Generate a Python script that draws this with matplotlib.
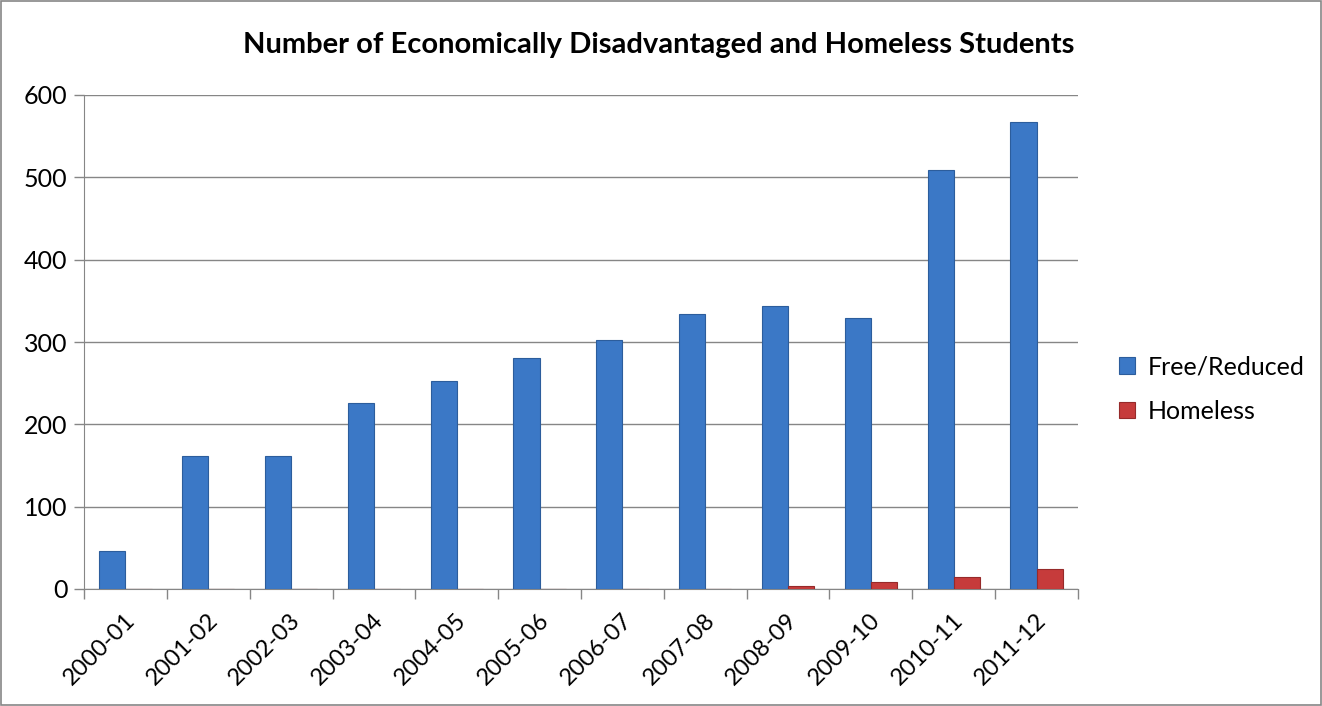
# Number of economically disadvantaged and homeless students, by school year
import numpy as np
import matplotlib.pyplot as plt
import matplotlib.transforms as mtransforms
from matplotlib.patches import Rectangle

plt.rcParams['font.family'] = ['Lato', 'DejaVu Sans']

years = ['2000-01', '2001-02', '2002-03', '2003-04', '2004-05', '2005-06',
         '2006-07', '2007-08', '2008-09', '2009-10', '2010-11', '2011-12']
free_reduced = [46, 161, 161, 226, 253, 280, 302, 334, 344, 329, 509, 567]
homeless = [0, 0, 0, 0, 0, 0, 0, 0, 4, 8, 15, 24]

fig = plt.figure(figsize=(13.22, 7.06), dpi=100)
ax = fig.add_axes([84 / 1322, 1 - 589 / 706, (1078 - 84) / 1322, (589 - 95) / 706])

x = np.arange(len(years))
w = 0.315
ax.bar(x - w / 2, free_reduced, w, color='#3b78c6', edgecolor='#2c5d9c',
       linewidth=0.8, label='Free/Reduced', zorder=3)
ax.bar(x + w / 2, homeless, w, color='#c63b3b', edgecolor='#962a2a',
       linewidth=0.8, label='Homeless', zorder=3)

ax.set_xlim(-0.5, len(years) - 0.5)
ax.set_ylim(0, 600)
ax.set_yticks(range(0, 601, 100))
ax.set_xticks(x)
ax.set_xticklabels(years, rotation=45, ha='right', va='top', rotation_mode='anchor')
ax.set_xticks(np.arange(-0.5, len(years)), minor=True)
ax.tick_params(axis='x', which='major', length=0, labelsize=17, pad=15)
ax.tick_params(axis='x', which='minor', length=7, color='#868686', width=1, direction='out')
ax.tick_params(axis='y', length=7, color='#868686', width=1, labelsize=18, pad=5)

# slanted labels end just right of the category centre
shift = mtransforms.ScaledTranslation(-1 / 72, 0, fig.dpi_scale_trans)
for lbl in ax.get_xticklabels():
    lbl.set_transform(lbl.get_transform() + shift)

ax.grid(axis='y', color='#868686', linewidth=1, zorder=0)
for s in ['top', 'right']:
    ax.spines[s].set_visible(False)
ax.spines['left'].set_color('#868686')
ax.spines['bottom'].set_color('#868686')

fig.text(659 / 1322, 1 - 45 / 706, 'Number of Economically Disadvantaged and Homeless Students',
         ha='center', va='center', fontsize=21, fontweight='bold')

ax.legend(loc='center left', bbox_to_anchor=(1.041, 0.405), frameon=False, fontsize=18,
          borderpad=0, borderaxespad=0, handlelength=0.64, handleheight=0.64,
          labelspacing=0.85, handletextpad=0.5)

fig.patches.append(Rectangle((0.001, 0.001), 0.998, 0.998, transform=fig.transFigure,
                             fill=False, edgecolor='#868686', linewidth=1.2))

fig.savefig('out.png', dpi=100)
